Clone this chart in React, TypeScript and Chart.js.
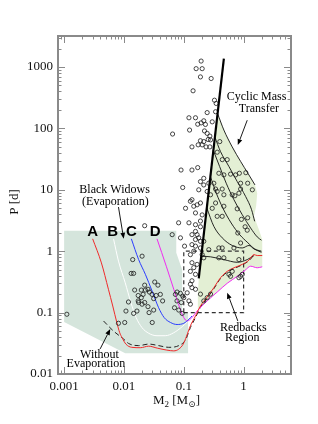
import React, { useEffect, useRef } from 'react';
import { Chart, registerables } from 'chart.js';
Chart.register(...registerables);

const xRange = [0.00079, 6.2];
const yRange = [0.01, 3200];
const xTickValues = [0.001, 0.01, 0.1, 1];
const xTickLabels = ['0.001', '0.01', '0.1', '1'];
const yTickValues = [0.01, 0.1, 1, 10, 100, 1000];
const yTickLabels = ['0.01', '0.1', '1', '10', '100', '1000'];
const minorMultiples = [2, 3, 4, 5, 6, 7, 8, 9];

// observed pulsars [M2, P]
const pulsars: number[][] = [
  [0.195,1250],[0.161,940],[0.203,940],[0.19,690],[0.287,650],[0.143,410],[0.326,288],[0.348,255],[0.34,187],[0.246,181],
  [0.122,149],[0.157,149],[0.216,133],[0.195,123],[0.171,117],[0.23,116],[0.299,128],[0.125,94],[0.222,91],[0.246,83],
  [0.273,75],[0.256,66],[0.28,65],[0.065,81],[0.19,63],[0.216,61],[0.174,54],[0.203,54],[0.137,50],[0.236,50],[0.273,50],[0.40,61],
  [0.362,41],[0.44,31],[0.532,31],[0.09,21],[0.137,21],[0.171,23],[0.386,18.6],[0.468,17.5],[0.605,18],[0.735,17.5],
  [0.216,15.4],[0.19,13.6],[0.262,12.8],[0.318,12.8],[0.216,12],[0.096,10.9],[0.34,10.3],[0.439,10.3],[0.891,10.3],[1.40,10],
  [0.178,10],[0.246,9.4],[0.362,9.4],[0.28,8.3],[0.468,8.3],[0.645,8.3],[0.137,6.9],[0.129,6.5],[0.167,5.7],[0.19,6.1],
  [0.34,6.1],[0.468,5.4],[0.299,5.0],[0.107,5.0],[0.147,5.4],[0.157,4.2],[0.203,3.9],[0.362,3.7],[0.439,3.7],[0.19,3.1],
  [0.082,2.9],[0.122,2.9],[0.157,2.7],[0.19,2.5],[0.157,2.1],[0.137,1.86],[0.167,1.86],[0.178,1.65],[0.088,1.65],[0.064,1.86],[0.216,1.45],
  [0.157,1.55],[0.19,1.45],[0.137,1.28],[0.157,1.21],[0.19,1.13],[0.147,1.0],[0.129,0.88],[0.203,0.88],[0.216,0.78],[0.137,0.65],
  [0.167,0.61],[0.147,0.54],[0.129,0.47],[0.157,0.42],[0.137,0.33],[0.129,0.29],[0.137,0.255],[0.157,0.24],[0.114,0.21],[0.19,0.2],
  [0.1,0.175],[0.122,0.155],[0.129,0.137],[0.28,0.2],[0.246,0.175],[0.216,0.155],[0.262,1.06],[0.386,1.13],[0.439,1.13],[0.689,1.13],
  [0.386,0.78],[0.468,0.78],[0.568,0.42],[0.645,0.47],[0.605,0.39],[0.891,0.39],[0.95,0.42],[0.835,0.37],[0.077,0.155],
  [0.0222,2.6],[0.103,1.21],[0.014,0.73],[0.0201,0.83],[0.0132,0.435],[0.0145,0.435],[0.0222,0.28],[0.0327,0.315],[0.037,0.28],
  [0.0195,0.233],[0.0228,0.233],[0.0252,0.24],[0.0267,0.216],[0.0151,0.233],[0.0173,0.19],[0.0209,0.198],[0.0295,0.198],[0.0346,0.19],
  [0.0406,0.198],[0.0314,0.169],[0.0443,0.155],[0.0195,0.175],[0.0173,0.155],[0.0176,0.146],[0.0119,0.149],[0.0201,0.137],[0.0222,0.146],
  [0.0252,0.125],[0.0108,0.106],[0.0165,0.106],[0.0145,0.097],[0.0263,0.1],[0.0314,0.11],[0.0725,0.198],[0.0773,0.216],[0.0879,0.206],
  [0.096,0.186],[0.07,0.12],[0.0824,0.11],[0.094,0.097],[0.091,0.146],
  [0.00111,0.094],[0.0081,0.067],[0.0103,0.069],[0.0297,0.069],
  [0.85,18.6],[1.09,19],[0.891,12.8],[1.17,12.8],[0.835,8.8],[0.715,8.0],[0.783,4.9],[0.92,3.3],[1.17,3.5],[1.06,2.5],[1.15,2.2],
  [0.80,1.98],[0.891,1.36],[0.835,0.73]
];

// evolutionary tracks [M2, P]
const trackA = [[0.003,1.59],[0.0042,0.645],[0.0055,0.24],[0.0065,0.128],[0.0076,0.069],[0.0085,0.047],[0.0093,0.039],[0.0108,0.0306],[0.0135,0.0272],[0.0188,0.0268],[0.0259,0.0284],[0.036,0.0264],[0.052,0.0245],[0.068,0.0238],[0.0824,0.0254],[0.098,0.0307],[0.111,0.041],[0.129,0.061],[0.157,0.088],[0.19,0.128],[0.246,0.18],[0.318,0.254],[0.412,0.37],[0.532,0.47],[0.689,0.537],[0.95,0.61],[1.23,0.715],[1.49,0.88],[1.69,0.85],[2.05,0.85]];
const trackB = [[0.0067,1.59],[0.0081,0.69],[0.0105,0.306],[0.0131,0.145],[0.016,0.083],[0.02,0.057],[0.026,0.046],[0.0357,0.042],[0.049,0.042],[0.068,0.047],[0.094,0.059],[0.114,0.07]];
const trackC = [[0.0133,1.59],[0.0176,0.73],[0.0228,0.42],[0.0295,0.225],[0.038,0.12],[0.047,0.083],[0.06,0.069],[0.0773,0.064],[0.1,0.067],[0.122,0.078],[0.137,0.088]];
const trackD = [[0.0357,1.59],[0.051,0.57],[0.068,0.24],[0.0855,0.12],[0.1,0.083],[0.114,0.073],[0.137,0.083],[0.167,0.106],[0.246,0.155],[0.362,0.216],[0.532,0.3],[0.783,0.39],[1.06,0.49],[1.31,0.57],[1.69,0.537],[2.05,0.557]];
const trackNoEvap = [[0.00456,0.073],[0.0067,0.05],[0.0099,0.037],[0.0119,0.0315],[0.0176,0.029],[0.026,0.0307],[0.038,0.029],[0.056,0.0272],[0.0824,0.029],[0.107,0.036],[0.129,0.057],[0.157,0.083],[0.19,0.122],[0.246,0.172],[0.318,0.245],[0.412,0.36],[0.532,0.455],[0.689,0.52],[0.95,0.6],[1.23,0.7],[1.49,0.87]];
const thickLine = [[0.178,0.36],[0.468,1364]];
const cyclic1 = [[0.367,175],[0.468,94],[0.645,50],[0.891,29],[1.18,18.6],[1.55,12]];
const cyclic2 = [[0.33,73],[0.412,41.8],[0.568,24],[0.783,13.6],[1.08,7.8],[1.36,4.74],[1.53,3.07]];
const cyclic3 = [[0.31,44.6],[0.397,24],[0.512,12.8],[0.689,6.9],[0.95,3.93],[1.31,2.39],[1.69,1.71],[1.99,1.51]];
const cyclic4 = [[0.279,16.4],[0.35,8.8],[0.45,5.04],[0.62,2.88],[0.86,1.86],[1.18,1.37],[1.53,1.09],[1.99,1.0]];
const cyclic5 = [[0.243,5.04],[0.318,2.54],[0.439,1.65],[0.645,1.24],[0.95,1.13],[1.23,1.24],[1.49,1.09],[1.99,0.96]];
const cyclic6 = [[0.198,0.83],[0.28,0.81],[0.468,0.73],[0.783,0.66],[1.15,0.73],[1.49,0.85]];

// regions
const bwRegion = [[0.001,2.16],[0.0749,2.16],[0.0749,0.94],[0.094,0.5],[0.094,0.1],[0.118,0.1],[0.118,0.0218],[0.0105,0.0218],[0.001,0.0706],[0.001,2.16]];
const cmtRegion = [[0.367,175],[0.468,94],[0.645,50],[0.891,29],[1.18,18.6],[1.55,12],[1.69,8.8],[1.62,5.4],[1.49,3.7],[1.8,2.25],[2.05,1.55],[2.05,0.557],[1.69,0.537],[1.31,0.57],[1.06,0.49],[0.783,0.39],[0.532,0.3],[0.362,0.216],[0.246,0.155],[0.167,0.106],[0.172,0.2],[0.178,0.36],[0.367,175]];
const redbackBox = [[0.1,0.1],[1,0.1],[1,1],[0.1,1],[0.1,0.1]];

// annotations
const annotationTexts = ['Cyclic Mass', 'Transfer', 'Black Widows', '(Evaporation)', 'Redbacks', 'Region', 'Without', 'Evaporation'];
const annotationX = [1.65, 1.8, 0.00697, 0.0072, 0.99, 0.95, 0.0039, 0.0034];
const annotationY = [327, 209, 10.0, 6.47, 0.0573, 0.0393, 0.0204, 0.0149];
const arrowFromX = [1.15, 0.0081, 0.80, 0.004];
const arrowFromY = [136, 5.24, 0.0731, 0.0256];
const arrowToX = [0.80, 0.0099, 0.532, 0.0059];
const arrowToY = [53.5, 1.59, 0.211, 0.054];
const trackLabels = ['A', 'B', 'C', 'D'];
const trackLabelX = [0.003, 0.0065, 0.0133, 0.0334];
const trackLabelY = [2.03, 2.03, 2.03, 2.03];

const SERIF = "'Liberation Serif', 'DejaVu Serif', serif";

const toXY = (arr: number[][]) => arr.map(([x, y]) => ({ x, y }));

function lineSet(arr: number[][], color: string, width: number, order: number, dash: number[] = [], smooth = true) {
  return {
    data: toXY(arr), showLine: true, borderColor: color, borderWidth: width,
    pointRadius: 0, pointHoverRadius: 0, fill: false, order, borderDash: dash,
    tension: smooth ? 0.4 : 0, cubicInterpolationMode: smooth ? 'monotone' : 'default',
  };
}

function regionSet(arr: number[][], color: string, order: number) {
  return {
    data: toXY(arr), showLine: true, borderColor: 'rgba(0,0,0,0)', borderWidth: 0,
    backgroundColor: color, pointRadius: 0, fill: 'shape', order, tension: 0,
  };
}

const annotationPlugin = {
  id: 'annotationPlugin',
  afterDatasetsDraw(chart: any) {
    const { ctx } = chart;
    const xs = chart.scales.x, ys = chart.scales.y;
    const px = (v: number) => xs.getPixelForValue(v);
    const py = (v: number) => ys.getPixelForValue(v);
    ctx.save();
    ctx.fillStyle = '#000';
    ctx.strokeStyle = '#000';
    ctx.font = `12px ${SERIF}`;
    ctx.textAlign = 'center';
    ctx.textBaseline = 'middle';
    annotationTexts.forEach((t, i) => ctx.fillText(t, px(annotationX[i]), py(annotationY[i])));
    ctx.lineWidth = 0.9;
    arrowFromX.forEach((_, i) => {
      const x1 = px(arrowFromX[i]), y1 = py(arrowFromY[i]);
      const x2 = px(arrowToX[i]), y2 = py(arrowToY[i]);
      const ang = Math.atan2(y2 - y1, x2 - x1);
      const hl = 6, hw = 2.4;
      const bx = x2 - hl * Math.cos(ang), by = y2 - hl * Math.sin(ang);
      ctx.beginPath(); ctx.moveTo(x1, y1); ctx.lineTo(bx, by); ctx.stroke();
      ctx.beginPath();
      ctx.moveTo(x2, y2);
      ctx.lineTo(bx + hw * Math.sin(ang), by - hw * Math.cos(ang));
      ctx.lineTo(bx - hw * Math.sin(ang), by + hw * Math.cos(ang));
      ctx.closePath(); ctx.fill();
    });
    ctx.font = "bold 15px 'Liberation Sans', Arial, sans-serif";
    trackLabels.forEach((t, i) => ctx.fillText(t, px(trackLabelX[i]), py(trackLabelY[i])));
    ctx.restore();
  },
};

const framePlugin = {
  id: 'framePlugin',
  afterDraw(chart: any) {
    const { ctx, chartArea: a } = chart;
    const xs = chart.scales.x, ys = chart.scales.y;
    ctx.save();
    ctx.strokeStyle = '#8a8a8a';
    ctx.lineWidth = 1;
    const decades = [-4, -3, -2, -1, 0, 1, 2, 3, 4];
    decades.forEach((d) => {
      [1, ...minorMultiples].forEach((k) => {
        const v = k * Math.pow(10, d);
        const len = k === 1 ? 7 : 3.5;
        if (v >= xs.min && v <= xs.max) {
          const p = Math.round(xs.getPixelForValue(v)) + 0.5;
          ctx.beginPath();
          ctx.moveTo(p, a.bottom); ctx.lineTo(p, a.bottom - len);
          ctx.moveTo(p, a.top); ctx.lineTo(p, a.top + len);
          ctx.stroke();
        }
        if (v >= ys.min && v <= ys.max) {
          const p = Math.round(ys.getPixelForValue(v)) + 0.5;
          ctx.beginPath();
          ctx.moveTo(a.left, p); ctx.lineTo(a.left + len, p);
          ctx.moveTo(a.right, p); ctx.lineTo(a.right - len, p);
          ctx.stroke();
        }
      });
    });
    ctx.lineWidth = 2;
    ctx.strokeRect(a.left, a.top, a.right - a.left, a.bottom - a.top);
    // axis titles
    ctx.fillStyle = '#111';
    ctx.textBaseline = 'middle';
    ctx.font = `13px ${SERIF}`;
    ctx.save();
    ctx.translate(15, (a.top + a.bottom) / 2 - 3);
    ctx.rotate(-Math.PI / 2);
    ctx.textAlign = 'center';
    ctx.fillText('P [d]', 0, 0);
    ctx.restore();
    const parts = [
      { t: 'M', sub: false }, { t: '2', sub: true }, { t: ' [M', sub: false }, { t: '\u2299', sub: true }, { t: ']', sub: false },
    ];
    const big = `13px ${SERIF}`, small = `9px ${SERIF}`;
    let total = 0;
    parts.forEach((p) => { ctx.font = p.sub ? small : big; total += ctx.measureText(p.t).width; });
    let cx = (a.left + a.right) / 2 + 2 - total / 2;
    const ty = 401;
    ctx.textAlign = 'left';
    parts.forEach((p) => {
      ctx.font = p.sub ? small : big;
      ctx.fillText(p.t, cx, p.sub ? ty + 4 : ty);
      cx += ctx.measureText(p.t).width;
    });
    ctx.restore();
  },
};

export default function App() {
  const ref = useRef<HTMLCanvasElement>(null);
  useEffect(() => {
    const datasets: any[] = [
      {
        data: toXY(pulsars), showLine: false, pointStyle: 'circle', pointRadius: 2.1, pointHoverRadius: 2.1,
        pointBorderWidth: 0.8, borderColor: '#1a1a1a', backgroundColor: 'rgba(0,0,0,0)', order: 1,
      },
      lineSet(thickLine, '#000', 2.2, 0, [], false),
      lineSet(trackA, '#f02a2a', 1, 2),
      lineSet(trackNoEvap, '#222', 1, 3, [5, 3]),
      lineSet(trackB, '#ffffff', 1, 2),
      lineSet(trackC, '#2a3cff', 1, 2),
      lineSet(trackD, '#f02af0', 1, 2),
      lineSet(cyclic1, '#111', 0.9, 3),
      lineSet(cyclic2, '#111', 0.9, 3),
      lineSet(cyclic3, '#111', 0.9, 3),
      lineSet(cyclic4, '#111', 0.9, 3),
      lineSet(cyclic5, '#111', 0.9, 3),
      lineSet(cyclic6, '#111', 0.9, 3),
      lineSet(redbackBox, '#333', 1.2, 4, [4, 3], false),
      regionSet(cmtRegion, '#e3efd4', 10),
      regionSet(bwRegion, '#d5e5dc', 11),
    ];
    const tickFont = { family: SERIF, size: 13 };
    const chart = new Chart(ref.current as HTMLCanvasElement, {
      type: 'scatter',
      data: { datasets },
      options: {
        responsive: false,
        animation: false,
        events: [],
        layout: { padding: { left: 0, top: 36, right: 27, bottom: 0 } },
        plugins: { legend: { display: false }, tooltip: { enabled: false }, title: { display: false } },
        scales: {
          x: {
            type: 'logarithmic', min: xRange[0], max: xRange[1],
            grid: { display: false, drawTicks: false }, border: { display: false },
            afterBuildTicks: (s: any) => { s.ticks = xTickValues.map((v) => ({ value: v })); },
            afterFit: (s: any) => { s.height = 50; },
            ticks: {
              autoSkip: false, maxRotation: 0, padding: 5, color: '#111', font: tickFont,
              callback: (v: any) => { const i = xTickValues.indexOf(Number(v)); return i >= 0 ? xTickLabels[i] : ''; },
            },
          },
          y: {
            type: 'logarithmic', min: yRange[0], max: yRange[1],
            grid: { display: false, drawTicks: false }, border: { display: false },
            afterBuildTicks: (s: any) => { s.ticks = yTickValues.map((v) => ({ value: v })); },
            afterFit: (s: any) => { s.width = 58; },
            ticks: {
              autoSkip: false, padding: 5, color: '#111', font: tickFont,
              callback: (v: any) => { const i = yTickValues.indexOf(Number(v)); return i >= 0 ? yTickLabels[i] : ''; },
            },
          },
        },
      } as any,
      plugins: [annotationPlugin, framePlugin],
    });
    return () => chart.destroy();
  }, []);
  return (
    <div style={{ position: 'absolute', left: 0, top: 0, width: 318, height: 424, background: '#fff' }}>
      <canvas ref={ref} width={318} height={424} style={{ display: 'block' }} />
    </div>
  );
}
